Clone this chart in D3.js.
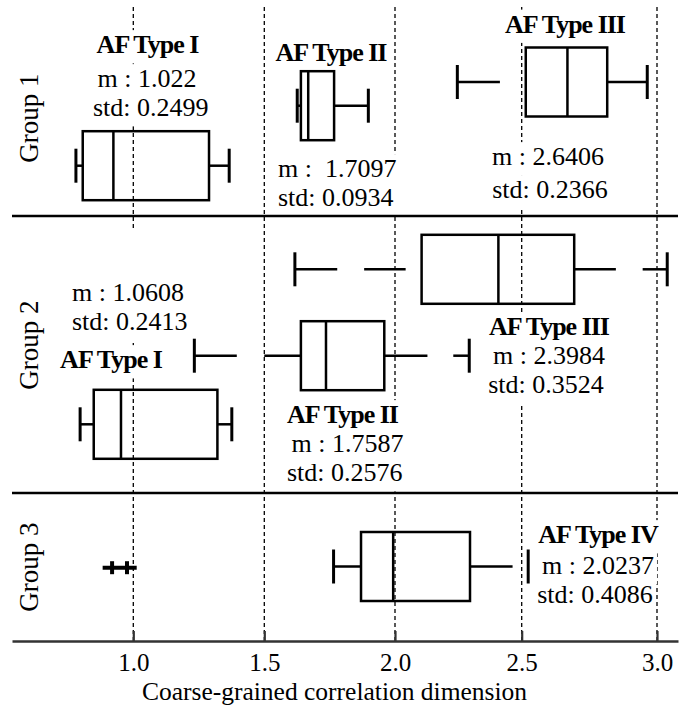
<!DOCTYPE html>
<html><head><meta charset="utf-8">
<script src="https://cdn.jsdelivr.net/npm/d3@7"></script>
<style>
body{margin:0;background:#fff}
svg{display:block}
text{font-family:"Liberation Serif","Times New Roman",serif;white-space:pre;fill:#000}
</style>
</head><body>
<svg id="c" width="694" height="707"></svg>
<script>
// ---------------- DATA ----------------
const groupNames = ["Group 1", "Group 2", "Group 3"];
const boxTypes = ["AF Type I", "AF Type II", "AF Type III", "AF Type I", "AF Type II", "AF Type III", "AF Type IV"];
const boxGroup = [0, 0, 0, 1, 1, 1, 2];
const whiskerLow  = [0.781, 1.626, 2.246, 0.797, 1.233, 1.617, 1.765];
const q1          = [0.807, 1.640, 2.515, 0.849, 1.640, 2.105, 1.870];
const median      = [0.924, 1.668, 2.669, 0.953, 1.736, 2.408, 1.993];
const q3          = [1.289, 1.767, 2.816, 1.321, 1.959, 2.694, 2.296];
const whiskerHigh = [1.366, 1.898, 2.964, 1.376, 2.293, 3.038, 2.524];
const meanLabels = ["1.022", "1.7097", "2.6406", "1.0608", "1.7587", "2.3984", "2.0237"];
const stdLabels  = ["0.2499", "0.0934", "0.2366", "0.2413", "0.2576", "0.3524", "0.4086"];
// stretches of whisker that are blank in the figure
const whiskerGaps = [[], [], [[2.414, 2.515]], [], [[1.395, 1.500], [2.128, 2.230]],
                     [[1.779, 1.882], [2.042, 2.105], [2.848, 2.947]], [[2.464, 2.524]]];
// collapsed marks in group 3: line start, tick, tick, line end
const group3Marks = [0.883, 0.919, 0.976, 1.013];
const tickValues = [1.0, 1.5, 2.0, 2.5, 3.0];
const axisDomain = [0.537, 3.078];
const xTitle = "Coarse-grained correlation dimension";

// ---------------- LAYOUT ----------------
const svg = d3.select("#c");
const plotLeft = 12, plotRight = 678, axisY = 641, gridTop = 7;
// the printed axis is slightly uneven; piecewise-linear scale through the tick positions
const x = d3.scaleLinear()
  .domain([axisDomain[0], ...tickValues, axisDomain[1]])
  .range([plotLeft, 133.3, 264.3, 395, 521.7, 657, plotRight]);
const sepY = [216, 493];
const boxCY = [165.7, 105.7, 82, 424.3, 355.7, 269.3, 566.5];
const boxH = 69, capH = 34, marksY = 567.7;
const groupLabelX = 38, groupLabelY = [118, 345, 567];
const lab = [
  {tx:147.5, ty:53,   anchor:"middle", mx:147,   my:87,  sx:150.7, sy:116, sep:" "},
  {tx:331,   ty:60.5, anchor:"start",  mx:278,   my:177, sx:278,   sy:206, sep:"  "},
  {tx:565,   ty:32.5, anchor:"middle", mx:548,   my:165, sx:550,   sy:198, sep:" "},
  {tx:111,   ty:368,  anchor:"middle", mx:128,   my:301, sx:129.7, sy:330, sep:" ", maskTop:228},
  {tx:342.5, ty:423,  anchor:"middle", mx:347.5, my:452, sx:344.7, sy:481, sep:" "},
  {tx:549,   ty:335,  anchor:"middle", mx:549,   my:364, sx:546,   sy:393, sep:" "},
  {tx:598,   ty:543,  anchor:"middle", mx:598,   my:574, sx:595,   sy:603, sep:" "}
];
const valFS = 26, titleFS = 26;

svg.append("rect").attr("width", 694).attr("height", 707).attr("fill", "#fff");

// grid lines
svg.append("g").selectAll("line").data(tickValues).join("line")
  .attr("x1", d => x(d)).attr("x2", d => x(d))
  .attr("y1", gridTop).attr("y2", axisY)
  .attr("stroke", "#000").attr("stroke-width", 1.3).attr("stroke-dasharray", "4,3");

const maskG = svg.append("g");
const sepG = svg.append("g");
const boxG = svg.append("g");
const textG = svg.append("g");

// text blocks
boxTypes.forEach((t, i) => {
  const L = lab[i];
  const items = [];
  const tt = textG.append("text").attr("x", L.tx).attr("y", L.ty)
    .attr("text-anchor", "middle")
    .attr("font-weight", "bold").attr("font-size", titleFS).attr("letter-spacing", "-1px")
    .text(t);
  items.push({el: tt, fs: titleFS, base: L.ty});
  const mt = textG.append("text").attr("x", L.mx).attr("y", L.my)
    .attr("text-anchor", L.anchor).attr("font-size", valFS)
    .text("m :" + L.sep + meanLabels[i]);
  items.push({el: mt, fs: valFS, base: L.my, top: L.maskTop});
  const st = textG.append("text").attr("x", L.sx).attr("y", L.sy)
    .attr("text-anchor", L.anchor).attr("font-size", valFS)
    .text("std: " + stdLabels[i]);
  items.push({el: st, fs: valFS, base: L.sy});
  items.forEach(it => {
    const b = it.el.node().getBBox();
    const top = it.top !== undefined ? it.top : it.base - it.fs * 0.88;
    const bot = it.base + it.fs * 0.4;
    maskG.append("rect").attr("x", b.x - 3).attr("width", b.width + 6)
      .attr("y", top).attr("height", bot - top).attr("fill", "#fff");
  });
});

// separators
sepG.selectAll("line").data(sepY).join("line")
  .attr("x1", plotLeft).attr("x2", plotRight).attr("y1", d => d).attr("y2", d => d)
  .attr("stroke", "#000").attr("stroke-width", 2.7);

// boxplots
const sw = 2.5;
boxTypes.forEach((t, i) => {
  const cy = boxCY[i];
  const g = boxG.append("g").attr("fill", "none").attr("stroke", "#000").attr("stroke-width", sw);
  const segs = [];
  const addSegs = (a, b) => {
    let cur = a;
    whiskerGaps[i].filter(gp => gp[0] >= a - 1e-9 && gp[1] <= b + 1e-9)
      .sort((p, q) => p[0] - q[0]).forEach(gp => {
        if (gp[0] > cur) segs.push([cur, gp[0]]);
        cur = gp[1];
      });
    if (b > cur) segs.push([cur, b]);
  };
  addSegs(whiskerLow[i], q1[i]);
  addSegs(q3[i], whiskerHigh[i]);
  segs.forEach(s => g.append("line").attr("x1", x(s[0])).attr("x2", x(s[1])).attr("y1", cy).attr("y2", cy));
  [whiskerLow[i], whiskerHigh[i]].forEach(v => g.append("line")
    .attr("x1", x(v)).attr("x2", x(v)).attr("y1", cy - capH / 2).attr("y2", cy + capH / 2)
    .attr("stroke-width", 3));
  g.append("rect").attr("x", x(q1[i])).attr("width", x(q3[i]) - x(q1[i]))
    .attr("y", cy - boxH / 2).attr("height", boxH);
  g.append("line").attr("x1", x(median[i])).attr("x2", x(median[i]))
    .attr("y1", cy - boxH / 2).attr("y2", cy + boxH / 2);
});

// group 3 collapsed marks
const mg = boxG.append("g").attr("stroke", "#000").attr("stroke-width", 4);
mg.append("line").attr("x1", x(group3Marks[0])).attr("x2", x(group3Marks[3])).attr("y1", marksY).attr("y2", marksY);
[group3Marks[1], group3Marks[2]].forEach(v => mg.append("line")
  .attr("x1", x(v)).attr("x2", x(v)).attr("y1", marksY - 6.5).attr("y2", marksY + 6.5));

// group labels
svg.append("g").selectAll("text").data(groupNames).join("text")
  .attr("transform", (d, i) => `translate(${groupLabelX},${groupLabelY[i]}) rotate(-90)`)
  .attr("text-anchor", "middle").attr("font-size", 27).text(d => d);

// x axis
const ax = svg.append("g").attr("transform", `translate(0,${axisY})`)
  .call(d3.axisBottom(x).tickValues(tickValues).tickFormat(d3.format(".1f"))
    .tickSizeInner(-10).tickSizeOuter(0).tickPadding(12));
ax.select(".domain").attr("stroke", "#333").attr("stroke-width", 2.5);
ax.selectAll(".tick line").attr("stroke", "#333").attr("stroke-width", 2.2);
ax.selectAll(".tick text").attr("font-size", 25)
  .attr("font-family", "Liberation Serif, Times New Roman, serif").attr("fill", "#222");

svg.append("text").attr("x", 334.5).attr("y", 700).attr("text-anchor", "middle")
  .attr("font-size", 25.5).text(xTitle);
</script>
</body></html>
